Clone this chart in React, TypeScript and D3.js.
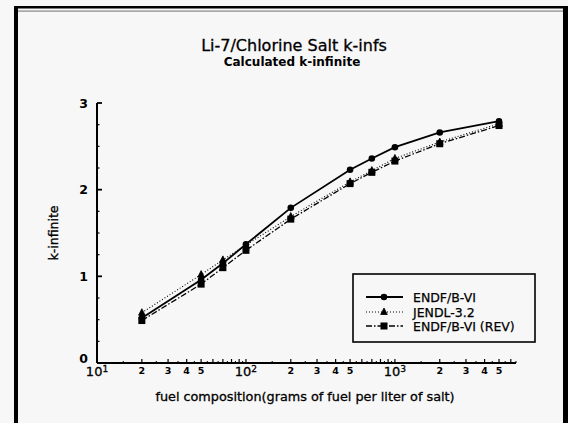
import React from "react";
import * as d3 from "d3";

const fuel = [20, 50, 70, 100, 200, 500, 700, 1000, 2000, 5000];
const endf = [0.52, 0.96, 1.15, 1.37, 1.79, 2.23, 2.36, 2.49, 2.66, 2.79];
const jendl = [0.58, 1.02, 1.19, 1.36, 1.69, 2.09, 2.22, 2.36, 2.55, 2.76];
const rev = [0.49, 0.91, 1.1, 1.3, 1.66, 2.07, 2.2, 2.33, 2.53, 2.74];
const seriesNames = ["ENDF/B-VI", "JENDL-3.2", "ENDF/B-VI (REV)"];
const yTickLabels = [0, 1, 2, 3];
const decadeLabels = [
  { v: 10, exp: "1" },
  { v: 100, exp: "2" },
  { v: 1000, exp: "3" },
];
const minorLabelDigits = [2, 3, 4, 5];

const W = 568;
const H = 423;
const FONT = "'DejaVu Sans', Verdana, sans-serif";

export default function App() {
  const x = d3.scaleLog().domain([10, 6500]).range([97, 516]);
  const y = d3.scaleLinear().domain([0, 3]).range([363, 103]);

  const line = d3
    .line<number>()
    .x((_, i) => x(fuel[i]))
    .y((d) => y(d));

  const xTicks: number[] = [];
  [10, 100, 1000].forEach((dec) => {
    for (let k = 1; k <= 9; k++) {
      const v = dec * k;
      if (v <= 6500) xTicks.push(v);
    }
  });
  const xHalfTicks: number[] = [];
  [10, 100, 1000].forEach((dec) => {
    for (let k = 1; k <= 9; k++) {
      const v = dec * (k + 0.5);
      if (v <= 6500) xHalfTicks.push(v);
    }
  });
  const yTicks = d3.range(0, 3.001, 0.25);

  const circle = (cx: number, cy: number, key: string) => (
    <circle key={key} cx={cx} cy={cy} r={3.3} fill="#000" />
  );
  const square = (cx: number, cy: number, key: string) => (
    <rect key={key} x={cx - 3.5} y={cy - 3.5} width={7} height={7} fill="#000" />
  );
  const tri = (cx: number, cy: number, key: string) => (
    <path
      key={key}
      d={`M${cx},${cy - 4}L${cx + 3.3},${cy + 2.5}L${cx - 3.3},${cy + 2.5}Z`}
      fill="#000"
      stroke="#000"
      strokeWidth={0.8}
    />
  );

  const legendRows = [297, 312, 326];

  return (
    <svg
      width={W}
      height={H}
      style={{ position: "absolute", left: 0, top: 0, background: "#f7f7f7" }}
      fontFamily={FONT}
    >
      <rect x={0} y={0} width={W} height={H} fill="#f7f7f7" />
      {/* frame */}
      <rect x={14} y={6} width={4} height={H - 6} fill="#000" />
      <rect x={14} y={6} width={W - 14} height={2.5} fill="#000" />
      <rect x={18} y={10.5} width={W - 18} height={1.2} fill="#888" />
      <rect x={563} y={6} width={5} height={H - 6} fill="#000" />

      {/* titles */}
      <text x={294} y={51} textAnchor="middle" fontSize={16} fill="#000" stroke="#000" strokeWidth={0.3}>
        Li-7/Chlorine Salt k-infs
      </text>
      <text x={292} y={66} textAnchor="middle" fontSize={12} fontWeight="bold" fill="#000">
        Calculated k-infinite
      </text>

      {/* y axis */}
      <line x1={97} x2={97} y1={y(3)} y2={y(0)} stroke="#000" strokeWidth={2} />
      {yTicks.map((t) => {
        const major = Math.abs(t - Math.round(t)) < 1e-6;
        return (
          <line
            key={"yt" + t}
            x1={97}
            x2={97 + (major ? 5 : 2.5)}
            y1={y(t)}
            y2={y(t)}
            stroke="#000"
            strokeWidth={major ? 1.8 : 1.2}
          />
        );
      })}
      {yTickLabels.map((t) => (
        <text
          key={"yl" + t}
          x={88}
          y={y(t) + (t === 0 ? 0 : 4.5)}
          textAnchor="end"
          fontSize={12.5}
          fontWeight="bold"
          fill="#000"
        >
          {t}
        </text>
      ))}
      <text
        transform={`translate(58,233) rotate(-90)`}
        textAnchor="middle"
        fontSize={12.5}
        fill="#000"
        stroke="#000"
        strokeWidth={0.35}
      >
        k-infinite
      </text>

      {/* x axis */}
      <line x1={97} x2={516} y1={y(0)} y2={y(0)} stroke="#000" strokeWidth={2} />
      {xTicks.map((t) => (
        <line
          key={"xt" + t}
          x1={x(t)}
          x2={x(t)}
          y1={y(0)}
          y2={y(0) - 4}
          stroke="#000"
          strokeWidth={1.2}
        />
      ))}
      {xHalfTicks.map((t) => (
        <line
          key={"xh" + t}
          x1={x(t)}
          x2={x(t)}
          y1={y(0)}
          y2={y(0) - 2}
          stroke="#000"
          strokeWidth={1}
        />
      ))}
      {decadeLabels.map((d) => (
        <text key={"dl" + d.v} x={x(d.v)} y={376} textAnchor="middle" fontSize={13} fill="#000" stroke="#000" strokeWidth={0.3}>
          10
          <tspan dy={-4} fontSize={9}>
            {d.exp}
          </tspan>
        </text>
      ))}
      {decadeLabels.map((d) =>
        minorLabelDigits.map((k) => (
          <text
            key={"ml" + d.v + k}
            x={x(d.v * k)}
            y={374}
            textAnchor="middle"
            fontSize={9.5}
            fontWeight="bold"
            fill="#000"
          >
            {k}
          </text>
        ))
      )}
      <text x={305} y={401} textAnchor="middle" fontSize={12.8} fill="#000" stroke="#000" strokeWidth={0.3}>
        fuel composition(grams of fuel per liter of salt)
      </text>

      {/* series */}
      <path d={line(jendl) || ""} fill="none" stroke="#000" strokeWidth={1.1} strokeDasharray="1,2" />
      <path d={line(rev) || ""} fill="none" stroke="#000" strokeWidth={1.3} strokeDasharray="6,2,1.5,2" />
      <path d={line(endf) || ""} fill="none" stroke="#000" strokeWidth={1.8} />
      {jendl.map((v, i) => tri(x(fuel[i]), y(v), "j" + i))}
      {rev.map((v, i) => square(x(fuel[i]), y(v), "r" + i))}
      {endf.map((v, i) => circle(x(fuel[i]), y(v), "e" + i))}

      {/* legend */}
      <rect x={353} y={274} width={182} height={68} fill="#f7f7f7" stroke="#000" strokeWidth={1.6} />
      <line x1={366} x2={403} y1={legendRows[0]} y2={legendRows[0]} stroke="#000" strokeWidth={1.8} />
      {circle(384, legendRows[0], "lc")}
      <line
        x1={366}
        x2={403}
        y1={legendRows[1]}
        y2={legendRows[1]}
        stroke="#000"
        strokeWidth={1.1}
        strokeDasharray="1,2"
      />
      {tri(384, legendRows[1], "lt")}
      <line
        x1={366}
        x2={403}
        y1={legendRows[2]}
        y2={legendRows[2]}
        stroke="#000"
        strokeWidth={1.3}
        strokeDasharray="6,2,1.5,2"
      />
      {square(384, legendRows[2], "ls")}
      {seriesNames.map((n, i) => (
        <text key={"lg" + i} x={413} y={legendRows[i] + 4.5} fontSize={12.5} fill="#000" stroke="#000" strokeWidth={0.25}>
          {n}
        </text>
      ))}
    </svg>
  );
}
